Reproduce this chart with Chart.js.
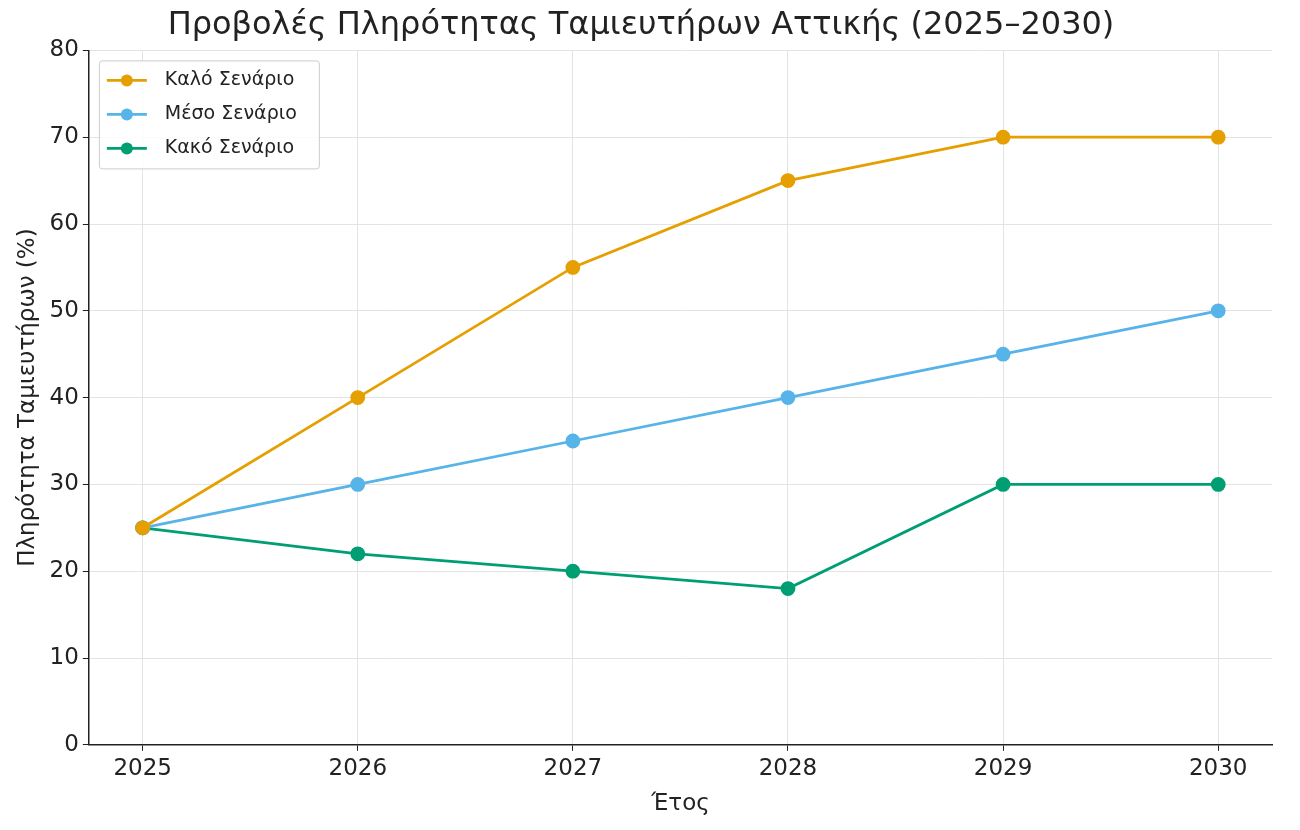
<!DOCTYPE html>
<html><head><meta charset="utf-8">
<script src="https://cdn.jsdelivr.net/npm/chart.js@4"></script>
<style>body{margin:0;background:#fff}#w{width:1300px;height:830px}</style>
</head><body><div id="w"><canvas id="c"></canvas></div>
<script>
const years=[2025,2026,2027,2028,2029,2030];
const good=[25,40,55,65,70,70];
const mid=[25,30,35,40,45,50];
const bad=[25,22,20,18,30,30];
const names=['Καλό Σενάριο','Μέσο Σενάριο','Κακό Σενάριο'];
const colors=['#E69F00','#56B4E9','#009E73'];
const F='"DejaVu Sans", sans-serif';
const mk=(d,i)=>({label:names[i],data:years.map((y,k)=>({x:y,y:d[k]})),borderColor:colors[i],backgroundColor:colors[i],borderWidth:2.8,pointRadius:6,pointHoverRadius:6,tension:0});
const legendPlugin={id:'lg',afterDraw(ch){const c=ch.ctx,a=ch.chartArea;const x=a.left+10,y=a.top+10,w=220,h=108;c.save();c.fillStyle='rgba(255,255,255,0.85)';c.strokeStyle='#ccc';c.lineWidth=1;c.beginPath();c.roundRect(x+0.5,y+0.5,w,h,3);c.fill();c.stroke();c.font='19px '+F;c.textBaseline='middle';names.forEach((n,i)=>{const yy=y+20+i*34;c.strokeStyle=colors[i];c.fillStyle=colors[i];c.lineWidth=2.8;c.beginPath();c.moveTo(x+8,yy);c.lineTo(x+48,yy);c.stroke();c.beginPath();c.arc(x+28,yy,6,0,Math.PI*2);c.fill();c.fillStyle='#222';c.fillText(n,x+66,yy);});c.restore();}};
new Chart(document.getElementById('c'),{type:'line',data:{datasets:[mk(good,0),mk(mid,1),mk(bad,2)]},
options:{responsive:true,maintainAspectRatio:false,animation:false,layout:{padding:{left:10,right:28,top:4,bottom:8}},
plugins:{legend:{display:false},tooltip:{enabled:false},title:{display:true,text:'Προβολές Πληρότητας Ταμιευτήρων Αττικής (2025–2030)',font:{family:F,size:32,weight:'normal'},color:'#222',padding:{top:2,bottom:6}}},
scales:{x:{type:'linear',min:2024.75,max:2030.25,afterBuildTicks:s=>{s.ticks=years.map(v=>({value:v}))},ticks:{font:{family:F,size:23},color:'#222',callback:v=>String(v),padding:4},grid:{color:'#e3e3e3',drawTicks:true,tickColor:'#222',tickLength:6},border:{color:'#222',width:1.5},title:{display:true,text:'Έτος',font:{family:F,size:23},color:'#222'}},
y:{min:0,max:80,ticks:{stepSize:10,font:{family:F,size:23},color:'#222',padding:4},grid:{color:'#e3e3e3',tickColor:'#222',tickLength:6},border:{color:'#222',width:1.5},title:{display:true,text:'Πληρότητα Ταμιευτήρων (%)',font:{family:F,size:23},color:'#222'}}}},
plugins:[legendPlugin]});
</script></body></html>
